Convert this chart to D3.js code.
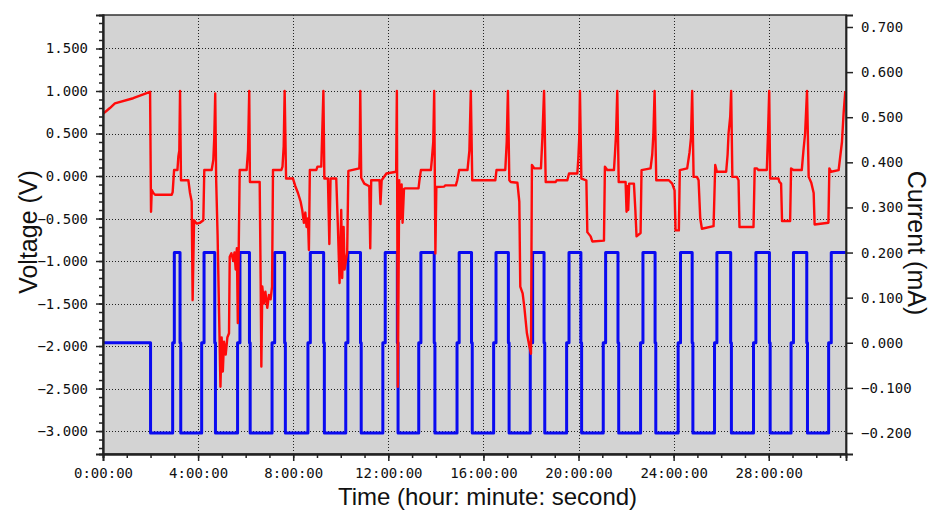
<!DOCTYPE html>
<html>
<head>
<meta charset="utf-8">
<script src="https://cdn.jsdelivr.net/npm/d3@7/dist/d3.min.js"></script>
<style>
  html, body { margin: 0; padding: 0; background: #ffffff; }
  svg { display: block; }
  .tick text { font-family: "DejaVu Sans Mono", "Liberation Mono", monospace; font-size: 14px; fill: #111; }
  .title { font-family: "Liberation Sans", Arial, sans-serif; font-size: 25px; fill: #111; }
</style>
</head>
<body>
<svg id="chart" width="933" height="511"></svg>
<script>
// ---------------- DATA ----------------
// Voltage trace (red), time in hours
const voltTime = [
  0.00, 0.29, 0.50, 1.27, 1.98,
  2.02, 2.05, 2.12, 2.19, 2.89, 2.93, 2.99, 3.13, 3.17, 3.21, 3.24,
  3.28, 3.59, 3.66, 3.73, 3.77, 3.83, 3.94, 4.08, 4.22, 4.26, 4.57, 4.64, 4.68, 4.72,
  4.76, 4.82, 4.94, 4.99, 5.04, 5.09, 5.16, 5.23, 5.30, 5.33, 5.40, 5.48, 5.53, 5.58, 5.63, 5.67, 5.71, 5.75, 6.04, 6.10, 6.15,
  6.18, 6.59, 6.63, 6.66, 6.70, 6.77, 6.83, 6.91, 6.98, 7.05, 7.11, 7.15, 7.50, 7.55, 7.60, 7.64,
  7.70, 7.99, 8.09, 8.20, 8.31, 8.38, 8.45, 8.51, 8.56, 8.62, 8.66, 8.70, 8.97, 9.02, 9.18, 9.22, 9.27,
  9.31, 9.46, 9.52, 9.57, 9.81, 9.88, 9.95, 10.02, 10.06, 10.12, 10.16, 10.27, 10.32, 10.78, 10.80, 10.82,
  10.86, 10.99, 11.20, 11.24, 11.28, 11.63, 11.67, 11.72, 11.92, 12.33, 12.34, 12.36,
  12.40, 12.46, 12.50, 12.56, 12.60, 12.66, 12.71, 13.27, 13.31, 13.37, 13.79, 13.83, 13.89, 13.93,
  13.98, 14.02, 14.35, 14.39, 14.84, 14.90, 14.98, 15.33, 15.41, 15.47,
  15.53, 16.50, 16.55, 16.92, 16.98, 17.03,
  17.09, 17.15, 17.43, 17.51, 17.55, 17.65, 17.72, 17.83, 17.93, 18.00, 18.04, 18.14, 18.42, 18.48, 18.55,
  18.62, 19.04, 19.08, 19.53, 19.60, 19.95, 19.99, 20.03, 20.06,
  20.12, 20.33, 20.37, 20.51, 20.58, 21.07, 21.11, 21.21, 21.49, 21.53, 21.58, 21.63,
  21.69, 21.98, 22.02, 22.06, 22.09, 22.13, 22.33, 22.39, 22.44, 22.61, 22.65, 23.03, 23.10, 23.15, 23.20,
  23.27, 23.80, 23.94, 24.04, 24.08, 24.22, 24.26, 24.57, 24.67, 24.73, 24.78,
  24.84, 24.98, 25.05, 25.12, 25.19, 25.68, 25.75, 25.82, 26.21, 26.27, 26.31, 26.38, 26.42,
  26.47, 26.66, 26.73, 26.77, 27.36, 27.41, 27.50, 27.57, 27.92, 27.97, 28.02,
  28.06, 28.41, 28.45, 28.52, 28.56, 28.90, 28.94, 29.04, 29.39, 29.46, 29.53, 29.61,
  29.68, 29.79, 29.89, 29.93, 30.51, 30.55, 30.62, 30.94, 31.08, 31.15, 31.22
];
const voltValue = [
  0.73, 0.80, 0.855, 0.915, 0.99,
  -0.42, -0.165, -0.20, -0.22, -0.22, -0.19, 0.07, 0.07, 0.23, 0.30, 1.00,
  -0.05, -0.05, -0.20, -0.30, -1.46, -0.52, -0.56, -0.55, -0.52, 0.07, 0.07, 0.19, 0.45, 0.97,
  -0.05, -0.70, -2.48, -1.90, -2.30, -1.95, -2.10, -1.90, -1.85, -0.95, -0.91, -1.00, -0.90, -1.10, -0.85, -1.73, -0.82, 0.07, 0.07, 0.30, 1.00,
  -0.07, -0.07, -1.20, -2.24, -1.30, -1.50, -1.36, -1.55, -1.40, -1.45, -1.30, 0.07, 0.07, 0.11, 0.35, 1.00,
  -0.03, -0.03, -0.12, -0.20, -0.30, -0.40, -0.55, -0.43, -0.60, -0.50, -0.87, 0.07, 0.07, 0.11, 0.11, 0.50, 1.00,
  -0.03, -0.03, -0.80, -0.03, -0.03, -0.60, -1.26, -0.40, -1.20, -0.60, -1.10, -0.90, 0.06, 0.09, 0.30, 1.00,
  -0.02, -0.09, -0.12, -0.85, -0.05, -0.05, -0.33, -0.05, 0.03, 0.05, 0.40, 1.00,
  -2.48, -0.05, -0.50, -0.10, -0.55, -0.15, -0.145, -0.145, -0.05, 0.07, 0.07, 0.19, 0.40, 1.00,
  -0.91, -0.13, -0.125, -0.11, -0.11, -0.05, 0.07, 0.07, 0.30, 1.00,
  -0.05, -0.05, 0.07, 0.07, 0.40, 1.00,
  -0.05, -0.07, -0.08, -0.30, -1.30, -1.38, -1.54, -1.85, -2.00, -2.09, 0.13, 0.09, 0.09, 0.45, 1.00,
  -0.07, -0.07, -0.05, -0.05, 0.03, 0.03, 0.20, 0.45, 1.00,
  -0.03, -0.05, -0.66, -0.71, -0.77, -0.76, 0.11, 0.07, 0.07, 0.25, 0.50, 1.00,
  -0.07, -0.07, -0.42, -0.12, -0.40, -0.09, -0.09, -0.40, -0.71, -0.67, 0.07, 0.09, 0.25, 0.50, 1.00,
  -0.05, -0.05, -0.09, -0.17, -0.64, -0.64, 0.07, 0.09, 0.28, 0.45, 1.00,
  -0.01, -0.01, -0.05, -0.50, -0.62, -0.59, 0.13, 0.05, 0.05, 0.25, 0.50, 0.70, 1.00,
  -0.01, -0.01, -0.05, -0.60, -0.60, 0.09, 0.09, 0.07, 0.07, 0.50, 1.00,
  -0.03, -0.03, -0.07, -0.09, -0.53, -0.53, 0.09, 0.07, 0.07, 0.30, 0.50, 1.00,
  -0.01, -0.08, -0.20, -0.57, -0.55, 0.09, 0.05, 0.07, 0.40, 0.74, 1.00
];

// Current trace (blue): initial rest, then cycles of discharge (-0.2 mA) / rest (0) / charge (+0.2 mA)
const initialRestEnd = 2.00;
const restStart   = [2.93, 4.15, 5.66, 7.11, 8.62, 10.21, 11.77, 13.28, 14.89, 16.43, 17.97, 19.50, 21.04, 22.61, 24.19, 25.72, 27.36, 28.94, 30.52];
const chargeStart = [3.00, 4.25, 5.76, 7.22, 8.72, 10.30, 11.87, 13.37, 14.98, 16.53, 18.07, 19.60, 21.14, 22.71, 24.29, 25.82, 27.46, 29.04, 30.63];
const chargeEnd   = [3.24, 4.70, 6.16, 7.64, 9.28, 10.83, 12.38, 13.93, 15.50, 17.05, 18.55, 20.10, 21.66, 23.22, 24.78, 26.40, 28.03, 29.60];
const currentLevels = { rest: 0.0, discharge: -0.2, charge: 0.2 };

const xTickLabels = ["0:00:00", "4:00:00", "8:00:00", "12:00:00", "16:00:00", "20:00:00", "24:00:00", "28:00:00"];
const xTickHours  = [0, 4, 8, 12, 16, 20, 24, 28];
const voltTicks    = [-3.0, -2.5, -2.0, -1.5, -1.0, -0.5, 0.0, 0.5, 1.0, 1.5];
const currentTicks = [-0.2, -0.1, 0.0, 0.1, 0.2, 0.3, 0.4, 0.5, 0.6, 0.7];

// ---------------- LAYOUT ----------------
const plot = { left: 103, right: 846, top: 15, bottom: 454 };
const svg = d3.select("#chart");

const x  = d3.scaleLinear().domain([0, 31.25]).range([plot.left, plot.right]);
const yV = d3.scaleLinear().domain([-3.27, 1.894]).range([plot.bottom, plot.top]);
const yI = d3.scaleLinear().domain([-0.2466, 0.7266]).range([plot.bottom, plot.top]);

// background
svg.append("rect")
  .attr("x", plot.left).attr("y", plot.top)
  .attr("width", plot.right - plot.left).attr("height", plot.bottom - plot.top)
  .attr("fill", "#d3d3d3");

// grid
const grid = svg.append("g").attr("stroke", "#222").attr("stroke-width", 1).attr("stroke-dasharray", "1,2");
grid.selectAll("line.h").data(voltTicks).join("line")
  .attr("x1", plot.left).attr("x2", plot.right)
  .attr("y1", d => Math.round(yV(d)) + 0.5).attr("y2", d => Math.round(yV(d)) + 0.5);
grid.selectAll("line.v").data(xTickHours.filter(d => d > 0)).join("line")
  .attr("y1", plot.top).attr("y2", plot.bottom)
  .attr("x1", d => Math.round(x(d)) + 0.5).attr("x2", d => Math.round(x(d)) + 0.5);

// clip
svg.append("clipPath").attr("id", "clip").append("rect")
  .attr("x", plot.left).attr("y", plot.top - 2)
  .attr("width", plot.right - plot.left).attr("height", plot.bottom - plot.top + 4);

// current series
const currentPts = [[0, currentLevels.rest], [initialRestEnd, currentLevels.rest], [initialRestEnd, currentLevels.discharge]];
restStart.forEach((rs, i) => {
  currentPts.push([rs, currentLevels.discharge], [rs, currentLevels.rest]);
  currentPts.push([chargeStart[i], currentLevels.rest], [chargeStart[i], currentLevels.charge]);
  if (i < chargeEnd.length) {
    const ce = chargeEnd[i];
    currentPts.push([ce, currentLevels.charge], [ce, currentLevels.rest], [ce + 0.03, currentLevels.rest], [ce + 0.03, currentLevels.discharge]);
  } else {
    currentPts.push([31.25, currentLevels.charge]);
  }
});

const lineI = d3.line().x(d => x(d[0])).y(d => yI(d[1]));
const lineV = d3.line().x((d, i) => x(voltTime[i])).y(d => yV(d));

svg.append("path").datum(currentPts)
  .attr("clip-path", "url(#clip)")
  .attr("fill", "none").attr("stroke", "#0a0af0").attr("stroke-width", 3)
  .attr("stroke-linejoin", "round")
  .attr("d", lineI);

svg.append("path").datum(voltValue)
  .attr("clip-path", "url(#clip)")
  .attr("fill", "none").attr("stroke", "#ff0a0a").attr("stroke-width", 2.4)
  .attr("stroke-linejoin", "round")
  .attr("d", lineV);

// frame
svg.append("rect")
  .attr("x", plot.left).attr("y", plot.top)
  .attr("width", plot.right - plot.left).attr("height", plot.bottom - plot.top)
  .attr("fill", "none").attr("stroke", "#333").attr("stroke-width", 1.5);

// axes
const fmt = d3.format(".3f");
svg.append("g").attr("transform", `translate(${plot.left},0)`)
  .call(d3.axisLeft(yV).tickValues(voltTicks).tickFormat(fmt).tickSize(7).tickPadding(8));
const minorV = d3.range(-32, 19).map(d => d / 10);
svg.append("g").attr("transform", `translate(${plot.left},0)`)
  .call(d3.axisLeft(yV).tickValues(minorV).tickFormat("").tickSize(4));

svg.append("g").attr("transform", `translate(0,${plot.bottom})`)
  .call(d3.axisBottom(x).tickValues(xTickHours).tickFormat((d, i) => xTickLabels[i]).tickSize(7).tickPadding(7));
svg.append("g").attr("transform", `translate(0,${plot.bottom})`)
  .call(d3.axisBottom(x).tickValues(d3.range(0, 32)).tickFormat("").tickSize(4));

svg.append("g").attr("transform", `translate(${plot.right},0)`)
  .call(d3.axisRight(yI).tickValues(currentTicks).tickFormat(fmt).tickSize(7).tickPadding(8));

svg.selectAll(".domain").attr("stroke", "#222").attr("stroke-width", 1.8);
svg.selectAll(".tick line").attr("stroke", "#222").attr("stroke-width", 1.5);

// titles
svg.append("text").attr("class", "title")
  .attr("x", (plot.left + plot.right) / 2 + 13).attr("y", 505)
  .style("font-size", "24px")
  .attr("text-anchor", "middle").text("Time (hour: minute: second)");
svg.append("text").attr("class", "title")
  .attr("transform", "translate(37,232) rotate(-90)")
  .attr("text-anchor", "middle").text("Voltage (V)");
svg.append("text").attr("class", "title")
  .attr("transform", "translate(908,243) rotate(90)")
  .attr("text-anchor", "middle").text("Current (mA)");
</script>
</body>
</html>
